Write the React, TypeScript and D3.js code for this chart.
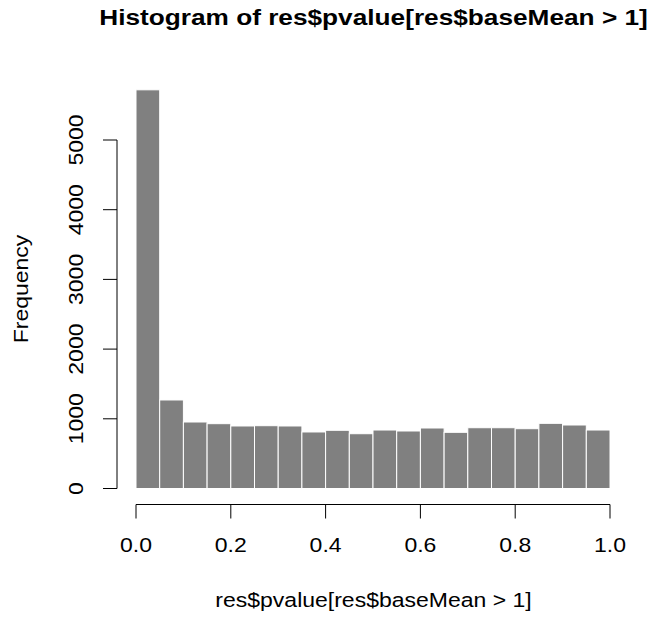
import React from "react";
import * as d3 from "d3";

const binEdges = [0, 0.05, 0.1, 0.15, 0.2, 0.25, 0.3, 0.35, 0.4, 0.45, 0.5, 0.55, 0.6, 0.65, 0.7, 0.75, 0.8, 0.85, 0.9, 0.95, 1.0];
const counts = [5720, 1270, 954, 930, 897, 901, 897, 811, 835, 786, 839, 825, 868, 806, 872, 872, 858, 935, 911, 839];
const xTicks = [0, 0.2, 0.4, 0.6, 0.8, 1.0];
const yTicks = [0, 1000, 2000, 3000, 4000, 5000];
const title = "Histogram of res$pvalue[res$baseMean > 1]";
const xLabel = "res$pvalue[res$baseMean > 1]";
const yLabel = "Frequency";

export default function App() {
  const W = 653, H = 617;
  const x = d3.scaleLinear().domain([0, 1]).range([136, 610]);
  const y = d3.scaleLinear().domain([0, 5000]).range([488.5, 140]);
  const axisY = 504.5;
  const axisX = 117;
  const font = "'Liberation Sans', Arial, Helvetica, sans-serif";
  const tickFs = 19.5;
  const sx = 1.18;
  return (
    <svg width={W} height={H} style={{ position: "absolute", left: 0, top: 0, background: "#fff" }} fontFamily={font}>
      <text transform={`translate(373.5,25) scale(1.22,1)`} textAnchor="middle" fontWeight="bold" fontSize={21.5}>{title}</text>
      {counts.map((c, i) => (
        <rect key={i} x={x(binEdges[i])} y={y(c)} width={x(binEdges[i + 1]) - x(binEdges[i])} height={y(0) - y(c)}
          fill="#808080" stroke="#ffffff" strokeWidth={1} />
      ))}
      {/* x axis */}
      <line x1={x(0)} x2={x(1)} y1={axisY} y2={axisY} stroke="#000" />
      {xTicks.map((t) => (
        <g key={t}>
          <line x1={x(t)} x2={x(t)} y1={axisY} y2={axisY + 14} stroke="#000" />
          <text transform={`translate(${x(t)},552) scale(${sx},1)`} textAnchor="middle" fontSize={tickFs}>{d3.format(".1f")(t)}</text>
        </g>
      ))}
      {/* y axis */}
      <line x1={axisX} x2={axisX} y1={y(0)} y2={y(5000)} stroke="#000" />
      {yTicks.map((t) => (
        <g key={t}>
          <line x1={axisX - 14} x2={axisX} y1={y(t)} y2={y(t)} stroke="#000" />
          <text transform={`translate(83,${y(t)}) rotate(-90) scale(${sx},1)`} textAnchor="middle" fontSize={tickFs}>{t}</text>
        </g>
      ))}
      <text transform={`translate(373.5,607) scale(${sx},1)`} textAnchor="middle" fontSize={tickFs}>{xLabel}</text>
      <text transform={`translate(28,289) rotate(-90) scale(${sx},1)`} textAnchor="middle" fontSize={tickFs}>{yLabel}</text>
    </svg>
  );
}
